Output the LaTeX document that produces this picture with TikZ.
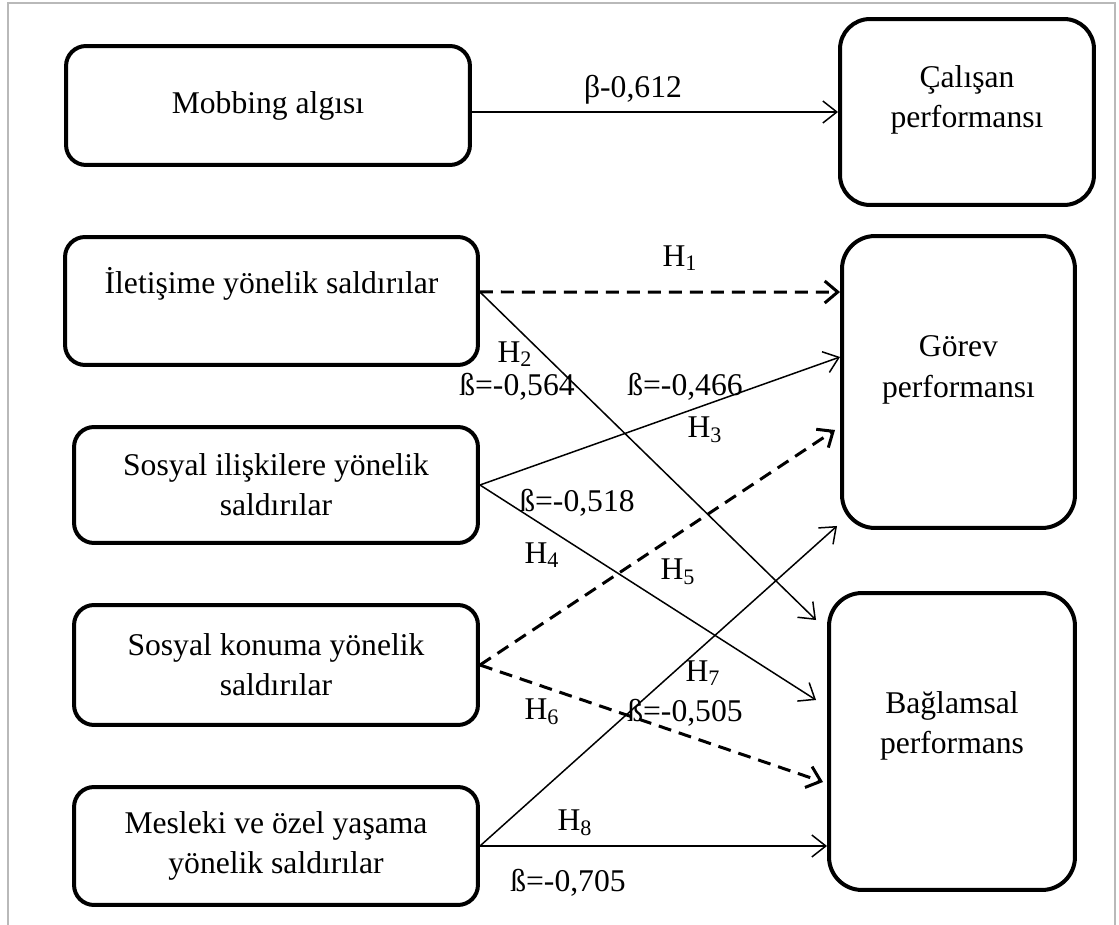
\documentclass[tikz,border=0pt]{standalone}
\usepackage{fontspec}
\setmainfont{Liberation Serif}
\usepackage{tikz}
\usetikzlibrary{arrows.meta, positioning, calc}

\begin{document}
\begin{tikzpicture}[x=0.02cm, y=-0.02cm,
    every node/.style={font=\fontsize{18}{22.8}\selectfont},
    box/.style={draw, line width=0.08cm, rounded corners=0.4cm, align=center, inner sep=0pt},
    lbl/.style={inner sep=0pt},
    arr/.style={-{Straight Barb[length=0.28cm,width=0.44cm]}, line width=0.03cm},
    darr/.style={-{Straight Barb[length=0.26cm,width=0.44cm,line width=0.06cm]}, line width=0.06cm, dash pattern=on 0.26cm off 0.16cm}]
    \useasboundingbox (0,0) rectangle (1119,925);
    % Frame
    \draw[gray!55, line width=0.03cm] (8,925) -- (8,3) -- (1115,3) -- (1115,925);

    % Boxes
    \node[box, minimum width=8.08cm, minimum height=2.38cm] (mob) at (268,105.5) {Mobbing algısı};
    \node[box, rounded corners=0.6cm, minimum width=5.08cm, minimum height=3.72cm, text depth=17.6pt] (cal) at (967,112) {Çalışan\\performansı};

    \node[box, minimum width=8.26cm, minimum height=2.56cm, text height=12pt, text depth=20.2pt] (ilet) at (271.5,301) {İletişime yönelik saldırılar};
    \node[box, minimum width=8.08cm, minimum height=2.32cm] (sosil) at (276,485) {Sosyal ilişkilere yönelik\\saldırılar};
    \node[box, minimum width=8.08cm, minimum height=2.4cm] (sosko) at (276,665) {Sosyal konuma yönelik\\saldırılar};
    \node[box, minimum width=8.08cm, minimum height=2.36cm] (mes) at (276,846) {Mesleki ve özel yaşama\\yönelik saldırılar};

    \node[box, rounded corners=0.66cm, minimum width=4.66cm, minimum height=5.84cm, text depth=17.6pt] (gor) at (958.5,382) {Görev\\performansı};
    \node[box, rounded corners=0.66cm, minimum width=4.92cm, minimum height=5.94cm, text depth=22pt] (bag) at (952,741.5) {Bağlamsal\\performans};

    % Labels
    \node[lbl] (b0) at (633,90) {β-0,612};
    \node[lbl] (h1) at (680,258) {H\textsubscript{1}};
    \node[lbl] (h2) at (515,354) {H\textsubscript{2}};
    \node[lbl] (b2) at (517,387) {ß=-0,564};
    \node[lbl] (b3) at (685,387) {ß=-0,466};
    \node[lbl] (h3) at (705,430) {H\textsubscript{3}};
    \node[lbl] (b5) at (577,503) {ß=-0,518};
    \node[lbl] (h4) at (542,555) {H\textsubscript{4}};
    \node[lbl] (h5) at (678,572) {H\textsubscript{5}};
    \node[lbl] (h7) at (703,673) {H\textsubscript{7}};
    \node[lbl] (h6) at (542,712) {H\textsubscript{6}};
    \node[lbl] (b7) at (685,713) {ß=-0,505};
    \node[lbl] (h8) at (575,823) {H\textsubscript{8}};
    \node[lbl] (b8) at (568,883) {ß=-0,705};

    % Arrows
    \draw[arr] (mob.east |- cal.west) -- (cal.west);
    \draw[darr] ([yshift=0.18cm]ilet.east) -- ([yshift=1.8cm]gor.west);
    \draw[arr] ([yshift=0.18cm]ilet.east) -- ([xshift=-0.22cm,yshift=2.43cm]bag.west);
    \draw[arr] (sosil.east) -- ([yshift=0.5cm]gor.west);
    \draw[arr] (sosil.east) -- ([xshift=-0.22cm,yshift=0.83cm]bag.west);
    \draw[darr] (sosko.east) -- ([xshift=-0.1cm,yshift=-0.96cm]gor.west);
    \draw[darr] (sosko.east) -- ([xshift=-0.08cm,yshift=-0.81cm]bag.west);
    \draw[arr] (mes.east) -- ([xshift=-0.06cm,yshift=0.08cm]gor.south west);
    \draw[arr] (mes.east) -- (mes.east -| bag.west);
\end{tikzpicture}
\end{document}
